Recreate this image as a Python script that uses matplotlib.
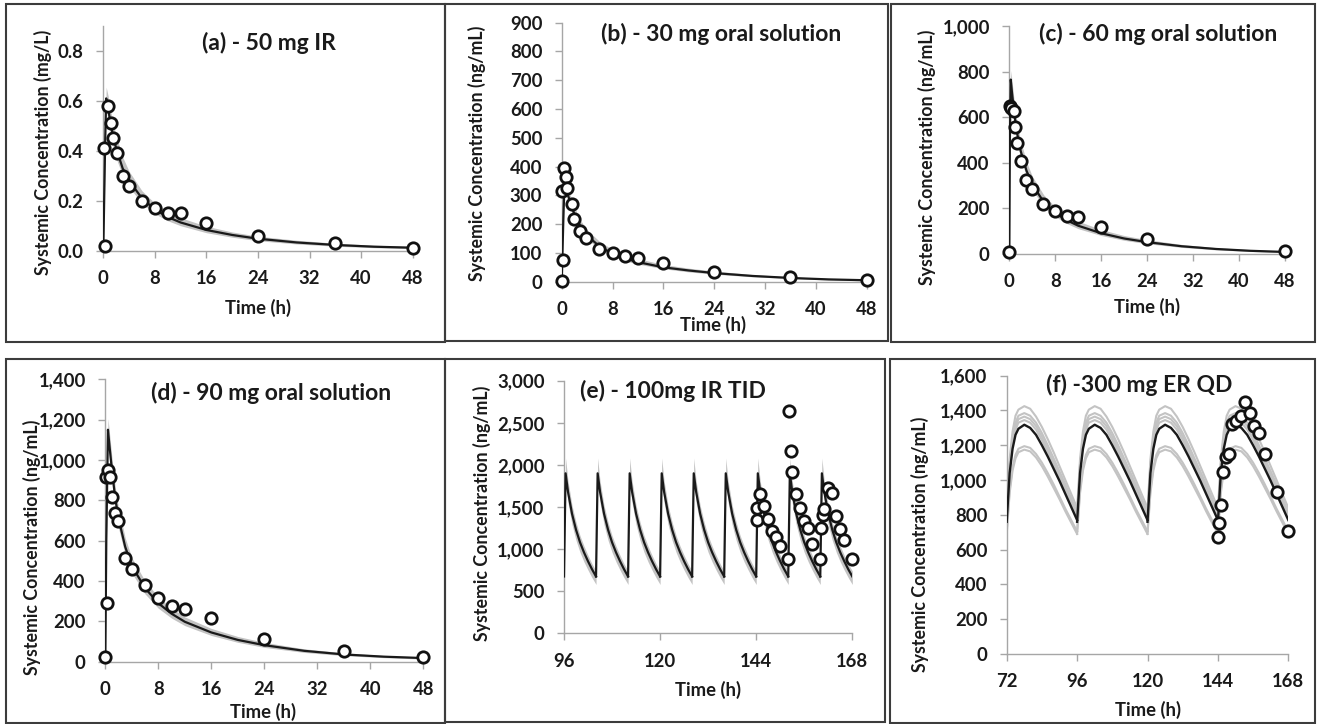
import numpy as np
import matplotlib
matplotlib.use("Agg")
import matplotlib.pyplot as plt
from matplotlib.patches import Rectangle
from matplotlib.ticker import FuncFormatter, MultipleLocator

plt.rcParams['font.family'] = ['Lato', 'DejaVu Sans']
plt.rcParams['font.weight'] = 'bold'

# ---------------- data ----------------
# (a) 50 mg IR  (mg/L)
a_obs_t = [0.25, 0.15, 0.75, 1.2, 1.55, 2.05, 3, 4, 6, 8, 10, 12, 16, 24, 36, 48]
a_obs_c = [0.02, 0.41, 0.58, 0.51, 0.45, 0.39, 0.30, 0.26, 0.20, 0.17, 0.15, 0.15, 0.11, 0.06, 0.03, 0.01]
a_sim_t = [0, 0.3, 0.45, 0.75, 1, 1.5, 2, 3, 4, 6, 8, 10, 12, 16, 20, 24, 30, 36, 42, 48]
a_sim_mean = [0, 0.45, 0.61, 0.57, 0.53, 0.46, 0.41, 0.33, 0.28, 0.21, 0.165, 0.135, 0.113, 0.083, 0.063, 0.048, 0.033, 0.023, 0.016, 0.012]
a_sim_lo = [0, 0.40, 0.57, 0.52, 0.48, 0.42, 0.37, 0.30, 0.255, 0.19, 0.148, 0.120, 0.100, 0.072, 0.054, 0.040, 0.027, 0.018, 0.012, 0.008]
a_sim_hi = [0, 0.50, 0.655, 0.62, 0.58, 0.51, 0.46, 0.375, 0.318, 0.24, 0.19, 0.157, 0.132, 0.098, 0.075, 0.058, 0.042, 0.030, 0.022, 0.017]

# (b) 30 mg oral solution (ng/mL)
b_obs_t = [0, 0.25, 0.05, 0.4, 0.7, 0.9, 1.55, 2, 2.9, 3.9, 5.9, 8, 10, 12, 16, 24, 36, 48]
b_obs_c = [2, 75, 315, 396, 365, 324, 270, 218, 177, 151, 112, 98, 89, 81, 64, 35, 15, 6]
b_sim_t = [0, 0.3, 0.45, 0.75, 1, 1.5, 2, 3, 4, 6, 8, 10, 12, 16, 20, 24, 30, 36, 42, 48]
b_sim_mean = [0, 250, 335, 320, 300, 265, 235, 190, 160, 122, 97, 80, 68, 50, 39, 30, 20, 13, 8, 5]
b_sim_lo = [0, 228, 314, 298, 279, 246, 218, 176, 148, 112, 88, 72, 61, 45, 34, 26, 17, 11, 6, 3]
b_sim_hi = [0, 272, 360, 346, 326, 290, 259, 212, 180, 139, 112, 93, 80, 60, 47, 37, 25, 17, 11, 8]

# (c) 60 mg oral solution (ng/mL)
c_obs_t = [0, 0.05, 0.25, 0.75, 1.0, 1.4, 2.0, 2.9, 3.9, 5.9, 8, 10, 12, 16, 24, 48]
c_obs_c = [10, 650, 642, 627, 559, 488, 409, 325, 285, 219, 189, 167, 161, 120, 64, 15]
c_sim_t = [0, 0.1, 0.25, 0.5, 1, 1.5, 2, 3, 4, 6, 8, 10, 12, 16, 20, 24, 30, 36, 42, 48]
c_sim_mean = [0, 500, 765, 700, 590, 510, 450, 365, 305, 228, 180, 148, 124, 91, 68, 52, 34, 22, 14, 9]
c_sim_lo = [0, 460, 725, 660, 552, 476, 418, 338, 281, 209, 164, 134, 111, 81, 60, 45, 29, 18, 11, 6]
c_sim_hi = [0, 545, 805, 752, 638, 555, 494, 404, 341, 259, 206, 171, 144, 107, 81, 63, 42, 28, 19, 13]

# (d) 90 mg oral solution (ng/mL)
d_obs_t = [0, 0.2, 0.05, 0.35, 0.7, 1.0, 1.45, 1.85, 3, 4, 6, 8, 10, 12, 16, 24, 36, 48]
d_obs_c = [25, 289, 914, 950, 914, 815, 739, 699, 516, 458, 380, 314, 278, 260, 215, 111, 53, 25]
d_sim_t = [0, 0.15, 0.4, 0.6, 1, 1.5, 2, 3, 4, 6, 8, 10, 12, 16, 20, 24, 30, 36, 42, 48]
d_sim_mean = [0, 600, 1150, 1080, 950, 810, 710, 570, 475, 365, 290, 238, 198, 145, 108, 82, 54, 36, 25, 18]
d_sim_lo = [0, 555, 1095, 1020, 892, 758, 662, 530, 440, 336, 265, 216, 179, 130, 96, 71, 46, 30, 20, 13]
d_sim_hi = [0, 645, 1205, 1145, 1012, 866, 762, 614, 516, 400, 321, 266, 222, 165, 125, 96, 64, 44, 31, 23]

# (e) 100 mg IR TID (ng/mL)
e_dose_times = [96, 104, 112, 120, 128, 136, 144, 152, 160]
e_cycle_t = [0, 0.4, 1, 2, 3, 4, 5, 6, 7, 8]
e_cycle_mean = [675, 1900, 1680, 1420, 1230, 1080, 960, 855, 760, 675]
e_cycle_lo = [580, 1830, 1550, 1290, 1105, 962, 848, 750, 660, 580]
e_cycle_hi = [700, 2080, 1810, 1520, 1320, 1160, 1035, 925, 825, 740]
e_obs_t = [144.3, 144.3, 145.0, 146.0, 147.0, 148.0, 149.0, 150.0, 152.0, 152.2, 152.6, 153.0,
           154.0, 155.0, 156.0, 157.0, 158.0, 160.0, 160.2, 160.6, 160.9, 161.9, 162.9, 163.9,
           164.9, 166.0, 168.0]
e_obs_c = [1346, 1492, 1651, 1516, 1358, 1215, 1148, 1041, 883, 2640, 2169, 1920,
           1655, 1492, 1334, 1247, 1061, 883, 1255, 1405, 1473, 1730, 1663, 1397,
           1235, 1105, 883]

# (f) 300 mg ER QD (ng/mL)
f_dose_times = [72, 96, 120, 144]
f_cycle_t = [0, 1, 2, 3, 4, 6, 8, 10, 12, 14, 16, 18, 20, 22, 24]
f_cycle_mean = [760, 1040, 1180, 1260, 1295, 1318, 1300, 1260, 1200, 1135, 1065, 995, 920, 845, 770]
f_trial1 = [830, 1120, 1280, 1370, 1405, 1425, 1410, 1365, 1305, 1235, 1160, 1080, 1000, 920, 840]
f_trial2 = [810, 1090, 1240, 1330, 1370, 1385, 1370, 1330, 1270, 1200, 1125, 1050, 975, 895, 815]
f_trial3 = [795, 1075, 1225, 1310, 1350, 1365, 1350, 1310, 1250, 1180, 1105, 1030, 955, 875, 800]
f_trial4 = [785, 1060, 1205, 1290, 1330, 1345, 1330, 1290, 1230, 1160, 1090, 1015, 940, 860, 785]
f_trial5 = [690, 925, 1055, 1125, 1160, 1175, 1165, 1130, 1080, 1020, 955, 890, 820, 755, 690]
f_trial6 = [705, 945, 1075, 1145, 1180, 1195, 1185, 1150, 1100, 1040, 975, 905, 835, 770, 705]
f_obs_t = [143.9, 144.4, 145.0, 145.9, 146.7, 147.8, 148.9, 150.2, 151.8, 153.25, 155.0, 156.3, 158.0, 160.1, 164.3, 168.0]
f_obs_c = [670, 751, 856, 1048, 1134, 1149, 1322, 1341, 1368, 1450, 1383, 1312, 1272, 1148, 933, 707]

titles = ["(a) - 50 mg IR", "(b) - 30 mg oral solution", "(c) - 60 mg oral solution",
          "(d) - 90 mg oral solution", "(e) - 100mg IR TID", "(f) -300 mg ER QD"]
ylabels = ["Systemic Concentration (mg/L)"] + ["Systemic Concentration (ng/mL)"] * 5
xlabel = "Time (h)"

# ---------------- layout ----------------
W, H = 1317, 724
fig = plt.figure(figsize=(W / 100, H / 100), dpi=100)

def px_axes(x0, x1, yt, yb):
    return fig.add_axes([x0 / W, 1 - yb / H, (x1 - x0) / W, (yb - yt) / H])

def box(x0, y0, x1, y1):
    fig.add_artist(Rectangle((x0 / W, 1 - y1 / H), (x1 - x0) / W, (y1 - y0) / H,
                             transform=fig.transFigure, fill=False, ec='#3c3c3c', lw=1.5))

box(5.5, 4, 444.5, 342)
box(445, 4, 888, 341)
box(891, 4, 1315, 342)
box(5.5, 359, 445, 723)
box(445, 359, 885, 722)
box(890, 359, 1315, 723)

axes_px = [
    (103.3, 412.7, 26, 250.7),
    (561.7, 866.7, 22.7, 281.7),
    (1009.3, 1285, 26, 254),
    (105.3, 423.3, 379.3, 661.7),
    (564, 852.3, 380.7, 633.3),
    (1006.7, 1288.3, 375.7, 654),
]
title_px = [(269, 42.7), (721.5, 34.3), (1158, 34.3), (271.5, 392.7), (672.7, 390.7), (1139, 385)]
ylabel_px = [(42.7, 152.3), (477.3, 153.3), (926.7, 157), (31.7, 547.5), (481.7, 513), (920, 544)]
xlabel_px = [(258.3, 308.3), (713.3, 325), (1146.7, 306.7), (263.3, 711.7), (708.3, 690), (1148.3, 710)]

xlims = [(0, 48), (0, 48), (0, 48), (0, 48), (96, 168), (72, 168)]
xsteps = [8, 8, 8, 8, 24, 24]
ylims = [(0, 0.9), (0, 900), (0, 1000), (0, 1400), (0, 3000), (0, 1600)]
ysteps = [0.2, 100, 200, 200, 500, 200]

BAND = '#c3c3c3'
LINE = '#1a1a1a'
AXC = '#a6a6a6'
TXT = '#1a1a1a'

def obs(ax, t, c):
    ax.plot(t, c, 'o', ms=8.2, mfc='white', mec='#111111', mew=2.0, ls='none', zorder=5, clip_on=False)

axs = [px_axes(*p) for p in axes_px]

# a-d single dose
single = [
    (a_sim_t, a_sim_mean, a_sim_lo, a_sim_hi, a_obs_t, a_obs_c),
    (b_sim_t, b_sim_mean, b_sim_lo, b_sim_hi, b_obs_t, b_obs_c),
    (c_sim_t, c_sim_mean, c_sim_lo, c_sim_hi, c_obs_t, c_obs_c),
    (d_sim_t, d_sim_mean, d_sim_lo, d_sim_hi, d_obs_t, d_obs_c),
]
for ax, (st, sm, sl, sh, ot, oc) in zip(axs[:4], single):
    ax.fill_between(st, sl, sh, color=BAND, lw=0, zorder=2)
    ax.plot(st, sm, color=LINE, lw=1.6, zorder=3)
    obs(ax, ot, oc)

# e multiple dose
ax = axs[4]
ct = np.array(e_cycle_t)
for d in e_dose_times:
    ax.fill_between(d + ct, e_cycle_lo, e_cycle_hi, color=BAND, lw=0, zorder=2)
for d in e_dose_times:
    ax.plot(d + ct, e_cycle_mean, color=LINE, lw=1.6, zorder=3)
obs(ax, e_obs_t, e_obs_c)

# f multiple dose
ax = axs[5]
ct = np.array(f_cycle_t)
for d in f_dose_times:
    for tr in (f_trial1, f_trial2, f_trial3, f_trial4, f_trial5, f_trial6):
        ax.plot(d + ct, tr, color=BAND, lw=1.5, zorder=2)
for d in f_dose_times:
    ax.plot(d + ct, f_cycle_mean, color=LINE, lw=1.7, zorder=3)
obs(ax, f_obs_t, f_obs_c)

for i, ax in enumerate(axs):
    ax.set_xlim(*xlims[i])
    ax.set_ylim(*ylims[i])
    ax.xaxis.set_major_locator(MultipleLocator(xsteps[i]))
    ax.yaxis.set_major_locator(MultipleLocator(ysteps[i]))
    if i == 0:
        ax.yaxis.set_major_formatter(FuncFormatter(lambda v, p: f"{v:.1f}"))
        ax.set_yticks([0, 0.2, 0.4, 0.6, 0.8])
    else:
        ax.yaxis.set_major_formatter(FuncFormatter(lambda v, p: f"{v:,.0f}"))
    for s in ('top', 'right'):
        ax.spines[s].set_visible(False)
    for s in ('left', 'bottom'):
        ax.spines[s].set_color(AXC)
        ax.spines[s].set_linewidth(1.0)
    ax.patch.set_alpha(0)
    ax.tick_params(axis='both', direction='out', length=5, width=1, color=AXC,
                   labelcolor=TXT, labelsize=13.3)
    ax.tick_params(axis='y', pad=9.0)
    ax.tick_params(axis='x', pad=9.0)
    for lab in ax.get_xticklabels() + ax.get_yticklabels():
        lab.set_fontweight('bold')

    tx, ty = title_px[i]
    fig.text(tx / W, 1 - ty / H, titles[i], ha='center', va='center', fontsize=16.5,
             fontweight='bold', color=TXT)
    lx, ly = ylabel_px[i]
    fig.text(lx / W, 1 - ly / H, ylabels[i], ha='center', va='center', rotation=90,
             fontsize=12.8, fontweight='bold', color=TXT)
    xx, xy = xlabel_px[i]
    fig.text(xx / W, 1 - xy / H, xlabel, ha='center', va='center', fontsize=13.3,
             fontweight='bold', color=TXT)

fig.savefig("out.png", dpi=100, facecolor='white')
